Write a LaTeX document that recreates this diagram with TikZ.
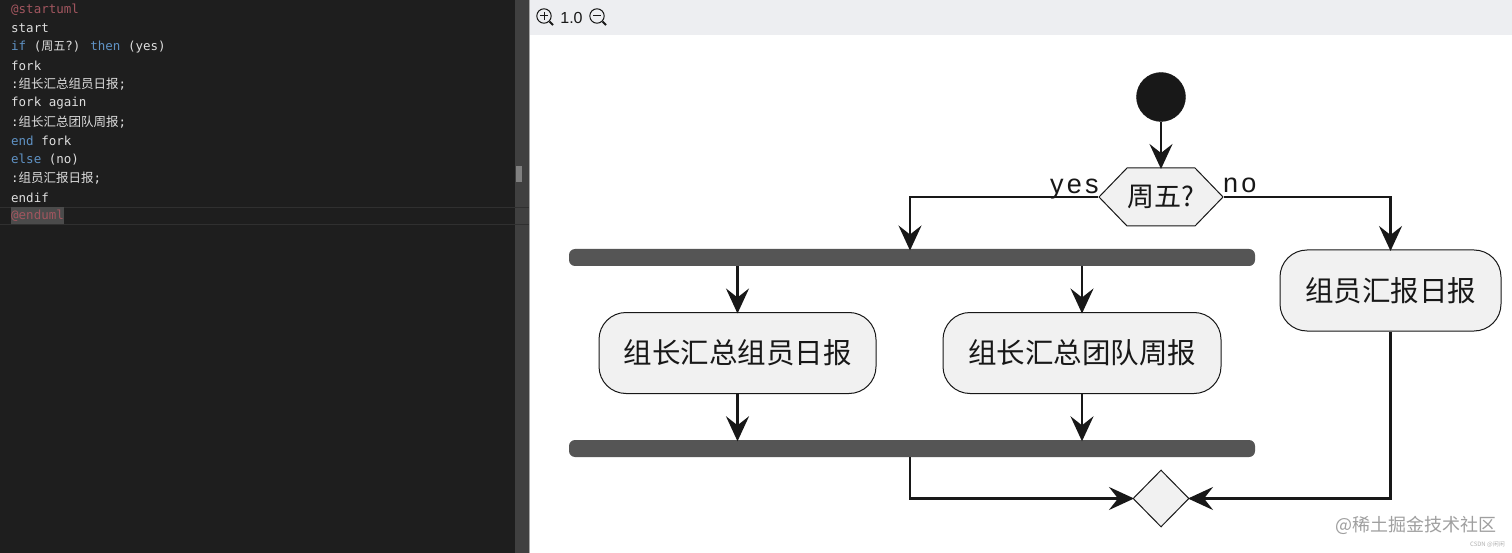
\documentclass[tikz,border=0pt]{standalone}
\usepackage{fontspec}
\usetikzlibrary{arrows.meta,shapes.geometric,shapes.symbols}
\setmainfont{Liberation Sans}
\newfontfamily\cjk{Noto Sans CJK SC}
\newfontfamily\codefont{DejaVu Sans Mono}
\newfontfamily\spaced[LetterSpace=12]{Liberation Sans}
\definecolor{editorbg}{HTML}{1E1E1E}
\definecolor{gutter}{HTML}{404040}
\definecolor{toolbar}{HTML}{EDEEF1}
\definecolor{fillgrey}{HTML}{F1F1F1}
\definecolor{barcol}{HTML}{555555}
\definecolor{inkcol}{HTML}{181818}
\definecolor{kw}{HTML}{5F92C4}
\definecolor{tagc}{HTML}{A2565F}
\definecolor{codetext}{HTML}{DEDEDE}
\tikzset{
 codeline/.style={anchor=west,inner sep=0pt,font=\fontsize{12.5}{15}\selectfont\codefont,text=codetext},
 actbox/.style={draw=inkcol,fill=fillgrey,line width=1pt,rounded corners=27pt,minimum height=81pt,font=\fontsize{28.5}{32}\selectfont\cjk,text=inkcol,inner sep=0pt},
 forkbar/.style={fill=barcol,rounded corners=6pt,minimum width=686pt,minimum height=17pt,inner sep=0pt},
 flow/.style={line width=2.4pt,draw=inkcol,shorten >=-1.5pt,-{Stealth[length=25pt,width=23pt,inset=9pt]}},
 guard/.style={font=\fontsize{27}{30}\selectfont\spaced,text=inkcol,inner sep=0pt,anchor=base west},
 lens/.style={draw=inkcol,line width=1pt},
}
\begin{document}
\begin{tikzpicture}[x=1pt,y=-1pt]
\useasboundingbox (0,0) rectangle (1512,553);
\fill[white] (0,0) rectangle (1512,553);
\fill[editorbg] (0,0) rectangle (515,553);
\fill[gutter] (515,0) rectangle (529,553);
\fill[gray!70] (529,0) rectangle (530,553);
\fill[gray] (516,166) rectangle (522,182);
\fill[toolbar] (530,0) rectangle (1512,35);
\draw[white!8!editorbg,line width=.8pt] (0,207) -- (529,207) (0,224) -- (529,224);
\fill[white!20!editorbg] (11,207) rectangle (64,224);
% code
\node[codeline,text=tagc] (c1) at (11,9.5) {@startuml};
\node[codeline] (c2) at (11,28.5) {start};
\node[codeline] (c3) at (11,47.5) {\textcolor{kw}{if} ({\cjk\fontsize{12}{15}\selectfont 周五}?) \textcolor{kw}{then} (yes)};
\node[codeline] (c4) at (11,65.5) {fork};
\node[codeline] (c5) at (11,84.5) {:{\cjk 组长汇总组员日报};};
\node[codeline] (c6) at (11,103.5) {fork again};
\node[codeline] (c7) at (11,122.5) {:{\cjk 组长汇总团队周报};};
\node[codeline] (c8) at (11,140.5) {\textcolor{kw}{end} fork};
\node[codeline] (c9) at (11,159.5) {\textcolor{kw}{else} (no)};
\node[codeline] (c10) at (11,178.5) {:{\cjk 组员汇报日报};};
\node[codeline] (c11) at (11,197.5) {endif};
\node[codeline,text=tagc] (c12) at (11,215.5) {@enduml};
% toolbar
\draw[lens] (544,16) circle (7.2pt);
\draw[lens,line width=1.8pt] (549.5,21.5) -- (553,25);
\draw[lens] (540,16) -- (548,16) (544,12) -- (544,20);
\node[inner sep=0pt,font=\fontsize{16}{18}\selectfont,text=inkcol] (zoomval) at (571.5,17.5) {1.0};
\draw[lens] (597,16) circle (7.2pt);
\draw[lens,line width=1.8pt] (602.5,21.5) -- (606,25);
\draw[lens] (593,16) -- (601,16);
% diagram
\node[circle,fill=inkcol,draw=inkcol,minimum size=49pt,inner sep=0pt] (start) at (1161,97) {};
\node[signal,signal to=west and east,signal pointer angle=92,draw=inkcol,fill=fillgrey,line width=1pt,minimum width=124pt,minimum height=58pt,inner sep=0pt,font=\fontsize{27}{30}\selectfont\cjk,text=inkcol] (hex) at (1161,197) {周五?};
\node[forkbar] (bar1) at (912,257.5) {};
\node[forkbar] (bar2) at (912,448.5) {};
\node[actbox,minimum width=277pt] (a1) at (737.5,353) {组长汇总组员日报};
\node[actbox,minimum width=278pt] (a2) at (1082,353) {组长汇总团队周报};
\node[actbox,minimum width=221pt] (a3) at (1390.5,290.5) {组员汇报日报};
\node[diamond,draw=inkcol,fill=fillgrey,line width=1pt,minimum width=56pt,minimum height=57pt,inner sep=0pt,aspect=1] (merge) at (1161,498.5) {};
\node[guard] (yes) at (1050,194) {yes};
\node[guard] (no) at (1223,193) {no};
\coordinate (ytop) at (910,249);
\coordinate (ybot) at (910,457);
\draw[flow] (start.south) -- (hex.north);
\draw[flow] (hex.west) -| (ytop);
\draw[flow] (hex.east) -| (a3.north);
\draw[flow] (bar1.south -| a1.north) -- (a1.north);
\draw[flow] (bar1.south -| a2.north) -- (a2.north);
\draw[flow] (a1.south) -- (a1.south |- bar2.north);
\draw[flow] (a2.south) -- (a2.south |- bar2.north);
\draw[flow] (ybot) |- (merge.west);
\draw[flow] (a3.south) |- (merge.east);
% watermark
\node[anchor=west,inner sep=0pt,font=\fontsize{18}{20}\selectfont\cjk,text=gray!75] (wm) at (1335,525) {@稀土掘金技术社区};
\node[anchor=east,inner sep=0pt,font=\fontsize{6}{7}\selectfont\cjk,text=gray!60] (wm2) at (1505,545) {CSDN @闲闲};
\end{tikzpicture}
\end{document}
